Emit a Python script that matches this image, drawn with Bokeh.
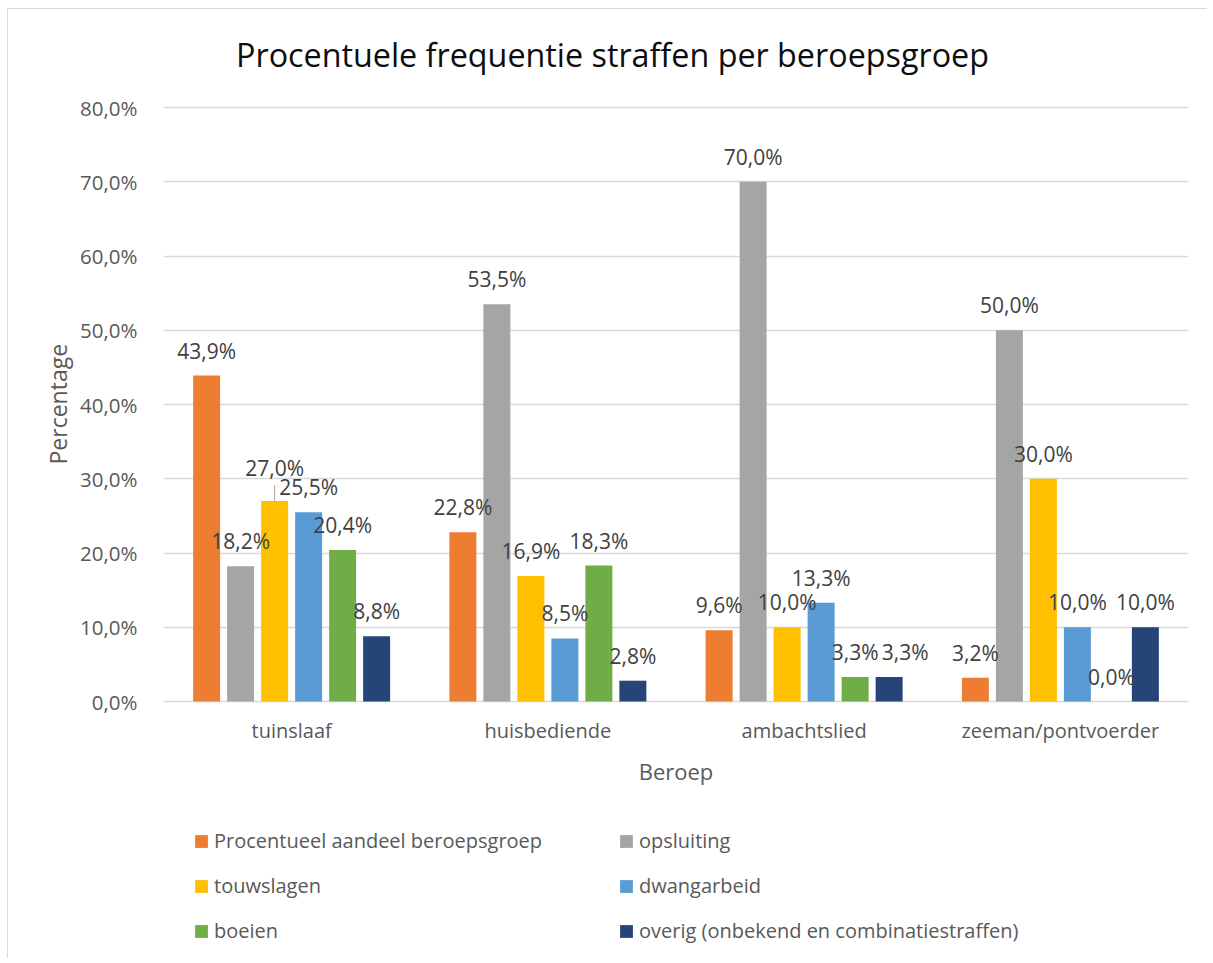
from bokeh.plotting import figure
from bokeh.models import (FactorRange, Range1d, ColumnDataSource, LabelSet, Label, Legend, LegendItem,
                          FixedTicker, CustomJSTickFormatter, Title)
from bokeh.transform import dodge
from bokeh.core.properties import value
from bokeh.embed import file_html
from bokeh.resources import INLINE

# ---------------- data ----------------
categories = ["tuinslaaf", "huisbediende", "ambachtslied", "zeeman/pontvoerder"]
series_names = ["Procentueel aandeel beroepsgroep", "opsluiting", "touwslagen",
                "dwangarbeid", "boeien", "overig (onbekend en combinatiestraffen)"]
aandeel = [43.9, 22.8, 9.6, 3.2]
opsluiting = [18.2, 53.5, 70.0, 50.0]
touwslagen = [27.0, 16.9, 10.0, 30.0]
dwangarbeid = [25.5, 8.5, 13.3, 10.0]
boeien = [20.4, 18.3, 3.3, 0.0]
overig = [8.8, 2.8, 3.3, 10.0]
y_ticks = [0, 10, 20, 30, 40, 50, 60, 70, 80]

title_text = "Procentuele frequentie straffen per beroepsgroep"
x_title = "Beroep"
y_title = "Percentage"

# ---------------- style ----------------
colors = ["#ED7D31", "#A5A5A5", "#FFC000", "#5B9BD5", "#70AD47", "#264478"]
FONT = "Open Sans"
TXT = "#595959"
LBL = "#404040"
GRID = "#d9d9d9"
bar_step = 34 / 256.25
bar_w = 27 / 256.25
label_gap = 25                       # px above bar top
extra_dy = {(2, 0): 8}                # raised label (touwslagen / tuinslaaf) with leader
extra_dx = {(5, 2): 16}               # shifted label (overig / ambachtslied)

# canvas geometry (the plot frame spans the whole height to hold title and legend)
W, H = 1200, 950
frame_left, frame_right = 155, 20
top_px, top_tick_px, zero_px, bottom_px = 0, 98, 692, 945
px_per_unit = (zero_px - top_tick_px) / y_ticks[-1]
y_end = (zero_px - top_px) / px_per_unit
y_start = -(bottom_px - zero_px) / px_per_unit

p = figure(x_range=FactorRange(*categories, range_padding=0), y_range=Range1d(y_start, y_end),
           width=W, height=H, output_backend="svg", toolbar_location=None,
           x_axis_location=None, title=None,
           min_border_left=frame_left, min_border_right=frame_right,
           min_border_top=top_px, min_border_bottom=H - bottom_px,
           styles={"margin-left": "7px", "margin-top": "8px",
                   "border-left": "1px solid #d9d9d9", "border-top": "1px solid #d9d9d9"})
p.outline_line_color = None
p.background_fill_color = "white"
p.border_fill_color = "white"

# chart title
p.add_layout(Label(x=len(categories) / 2, y=y_ticks[-1], x_offset=-63.5, y_offset=54,
                   text=title_text, text_align="center", text_baseline="middle",
                   text_font=FONT, text_font_size="32.3px", text_color="#0d0d0d"))

# grid
p.xgrid.grid_line_color = None
p.ygrid.ticker = FixedTicker(ticks=y_ticks)
p.ygrid.grid_line_color = GRID
p.ygrid.grid_line_width = 1.5

# y axis
p.yaxis.ticker = FixedTicker(ticks=y_ticks)
p.yaxis.formatter = CustomJSTickFormatter(code="return tick.toFixed(1).replace('.', ',') + '%';")
p.yaxis.axis_line_color = None
p.yaxis.major_tick_line_color = None
p.yaxis.minor_tick_line_color = None
p.yaxis.major_label_standoff = 20
p.yaxis.major_label_text_font = FONT
p.yaxis.major_label_text_font_size = "20.5px"
p.yaxis.major_label_text_color = TXT

# y axis title, placed along the value part of the axis
ytitle = Title(text=y_title, align="left", offset=bottom_px - 455, standoff=8,
               text_font=FONT, text_font_size="23px", text_font_style="normal", text_color=TXT)
p.add_layout(ytitle, "left")

# category labels and x axis title under the zero line
cat_src = ColumnDataSource(dict(cat=categories, base=[0] * len(categories)))
p.add_layout(LabelSet(x="cat", y="base", text="cat", source=cat_src, y_offset=-29,
                      text_align="center", text_baseline="middle",
                      text_font=value(FONT), text_font_size="20px", text_color=TXT))
p.add_layout(Label(x=len(categories) / 2, y=0, y_offset=-69, text=x_title,
                   text_align="center", text_baseline="middle",
                   text_font=FONT, text_font_size="22px", text_color=TXT))

all_series = [aandeel, opsluiting, touwslagen, dwangarbeid, boeien, overig]
renderers = []
for i, (name, vals, col) in enumerate(zip(series_names, all_series, colors)):
    off = (i - 2.5) * bar_step
    dx = [extra_dx.get((i, j), 0) for j in range(len(categories))]
    dy = [label_gap + extra_dy.get((i, j), 0) for j in range(len(categories))]
    texts = [f"{v:.1f}".replace(".", ",") + "%" for v in vals]
    src = ColumnDataSource(dict(cat=categories, val=vals, dx=dx, dy=dy, txt=texts))
    r = p.vbar(x=dodge("cat", off, range=p.x_range), top="val", width=bar_w, source=src,
               fill_color=col, line_color=None)
    renderers.append(r)
    p.add_layout(LabelSet(x=dodge("cat", off, range=p.x_range), y="val", text="txt",
                          x_offset="dx", y_offset="dy", source=src,
                          text_align="center", text_baseline="middle",
                          text_font=value(FONT), text_font_size="21px", text_color=LBL))
    # leader lines for raised labels
    lead_idx = [j for j in range(len(categories)) if (i, j) in extra_dy]
    if lead_idx:
        lsrc = ColumnDataSource(dict(
            cat=[categories[j] for j in lead_idx],
            y0=[vals[j] for j in lead_idx],
            y1=[vals[j] + (extra_dy[(i, j)] + 8) / px_per_unit for j in lead_idx]))
        p.segment(x0=dodge("cat", off, range=p.x_range), x1=dodge("cat", off, range=p.x_range),
                  y0="y0", y1="y1", source=lsrc, line_color="#a6a6a6", line_width=1)


def make_legend(idx, x):
    return Legend(items=[LegendItem(label=series_names[k], renderers=[renderers[k]]) for k in idx],
                  location=(x, 10), orientation="vertical",
                  glyph_width=16, glyph_height=16, label_standoff=5, spacing=18,
                  padding=0, margin=0, border_line_color=None, background_fill_alpha=0,
                  label_text_font=FONT, label_text_font_size="20px", label_text_color=TXT)


p.add_layout(make_legend([0, 2, 4], 30))
p.add_layout(make_legend([1, 3, 5], 455))

open("out.html", "w").write(file_html(p, INLINE))
